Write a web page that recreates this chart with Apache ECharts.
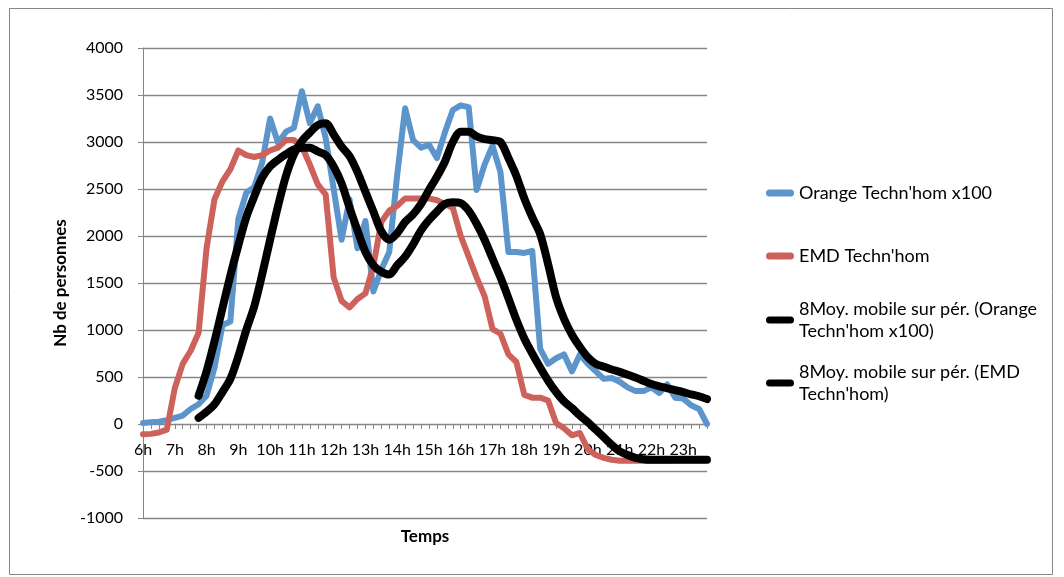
<!DOCTYPE html>
<html><head><meta charset="utf-8">
<script src="https://cdn.jsdelivr.net/npm/echarts/dist/echarts.min.js"></script>
<style>html,body{margin:0;padding:0;background:#fff}#c{width:1064px;height:577px}</style>
</head><body><div id="c"></div>
<script>
const times = [
"6:00","6:15","6:30","6:45","7:00","7:15","7:30","7:45","8:00","8:15","8:30","8:45",
"9:00","9:15","9:30","9:45","10:00","10:15","10:30","10:45","11:00","11:15","11:30","11:45",
"12:00","12:15","12:30","12:45","13:00","13:15","13:30","13:45","14:00","14:15","14:30","14:45",
"15:00","15:15","15:30","15:45","16:00","16:15","16:30","16:45","17:00","17:15","17:30","17:45",
"18:00","18:15","18:30","18:45","19:00","19:15","19:30","19:45","20:00","20:15","20:30","20:45",
"21:00","21:15","21:30","21:45","22:00","22:15","22:30","22:45","23:00","23:15","23:30","23:45"];

const orangeX100 = [
10,20,25,40,65,90,160,210,300,600,1050,1090,
2180,2460,2520,2780,3250,2990,3110,3150,3540,3200,3380,3040,
2500,1960,2390,1870,2160,1410,1640,1830,2650,3360,3020,2940,
2970,2830,3100,3340,3390,3370,2490,2760,2960,2680,1830,1830,
1820,1840,800,640,700,740,560,740,640,560,480,490,
450,390,350,350,390,330,420,280,270,200,160,0];

const emd = [
-110,-105,-90,-60,380,640,780,970,1870,2390,2580,2710,
2910,2860,2840,2860,2910,2940,3020,3020,2950,2760,2550,2440,
1560,1310,1240,1330,1390,1680,2150,2270,2320,2400,2400,2400,
2400,2380,2340,2300,2000,1780,1560,1360,1010,960,740,660,
310,280,280,250,10,-45,-120,-95,-270,-330,-360,-380,
-390,-390,-390,-390,-390,-390,-390,-385,-385,-385,-385,-385];

const maOrange = [
null,null,null,null,null,null,null,65,130,210,340,480,
720,1000,1250,1590,1960,2320,2640,2870,3010,3100,3180,3200,
3080,2950,2850,2680,2470,2260,2050,1960,2030,2150,2230,2340,
2490,2630,2790,3000,3110,3110,3060,3030,3020,3000,2830,2640,
2400,2200,2020,1700,1350,1120,950,820,710,640,610,580,
555,525,495,460,425,400,380,360,340,315,295,265];

const maEmd = [
null,null,null,null,null,null,null,300,560,880,1230,1580,
1900,2200,2420,2620,2740,2810,2870,2920,2940,2940,2900,2860,
2740,2560,2300,2060,1830,1690,1620,1590,1690,1780,1910,2060,
2170,2260,2340,2360,2350,2270,2130,1960,1760,1560,1340,1110,
910,750,600,460,340,240,170,90,20,-60,-140,-220,
-290,-330,-360,-375,-380,-380,-380,-380,-380,-380,-380,-380];

const yMin = -1000, yMax = 4000, yStep = 500;

const names = ["Orange Techn'hom x100", "EMD Techn'hom",
  "8Moy. mobile sur pér. (Orange Techn'hom x100)", "8Moy. mobile sur pér. (EMD Techn'hom)"];
const legendLabels = {
  [names[0]]: "Orange Techn'hom x100",
  [names[1]]: "EMD Techn'hom",
  [names[2]]: "8Moy. mobile sur pér. (Orange\nTechn'hom x100)",
  [names[3]]: "8Moy. mobile sur pér. (EMD\nTechn'hom)"
};

const FONT = 'Lato';
const GRID = '#868686';
const pill = 'path://M3.5,0L24.5,0A3.5,3.5,0,0,1,24.5,7L3.5,7A3.5,3.5,0,0,1,3.5,0Z';

function legendFor(name, top, twoLine) {
  return {
    data: [name], left: 766, top: top, padding: 0, orient: 'vertical',
    itemWidth: 28, itemHeight: 7, icon: pill, selectedMode: false,
    formatter: n => legendLabels[n],
    textStyle: Object.assign({fontFamily: FONT, fontSize: 18, color: '#000', lineHeight: 22},
      twoLine ? {padding: [22, 0, 0, 0]} : {})
  };
}

const chart = echarts.init(document.getElementById('c'), null, {renderer: 'canvas'});
chart.setOption({
  animation: false,
  backgroundColor: '#fff',
  graphic: [{
    type: 'rect', shape: {x: 9.5, y: 8.5, width: 1043, height: 566},
    style: {fill: 'none', stroke: GRID, lineWidth: 1}, silent: true, z: -10
  }],
  grid: {left: 143, right: 357, top: 48, bottom: 59, outerBoundsMode: 'none'},
  legend: [
    legendFor(names[0], 193 - 11, false),
    legendFor(names[1], 256 - 11, false),
    legendFor(names[2], 320 - 33, true),
    legendFor(names[3], 383 - 33, true)
  ],
  xAxis: {
    type: 'category', data: times, boundaryGap: false, position: 'bottom', offset: 0,
    name: 'Temps', nameLocation: 'middle', nameGap: 104,
    nameTextStyle: {fontFamily: FONT, fontSize: 17, fontWeight: 'bold', color: '#000'},
    axisLine: {onZero: false, lineStyle: {color: GRID, width: 1}},
    axisTick: {show: true, interval: 0, length: 5, lineStyle: {color: GRID}},
    axisLabel: {
      interval: 0, margin: 18, fontFamily: FONT, fontSize: 16, color: '#000',
      formatter: v => v.endsWith(':00') ? v.split(':')[0] + 'h' : ''
    },
    splitLine: {show: false}
  },
  yAxis: {
    type: 'value', min: yMin, max: yMax, interval: yStep,
    name: 'Nb de personnes', nameLocation: 'middle', nameRotate: 90, nameGap: 64,
    nameTextStyle: {fontFamily: FONT, fontSize: 17, fontWeight: 'bold', color: '#000'},
    axisLine: {show: true, lineStyle: {color: GRID, width: 1}},
    axisTick: {show: true, length: 5, lineStyle: {color: GRID}},
    axisLabel: {margin: 20, fontFamily: FONT, fontSize: 16, color: '#000', formatter: v => String(v)},
    splitLine: {show: true, lineStyle: {color: GRID, width: 1.3}}
  },
  series: [
    {name: names[0], type: 'line', data: orangeX100, showSymbol: false, symbol: 'none',
     color: '#5B95CC', itemStyle: {color: '#5B95CC'},
     lineStyle: {color: '#5B95CC', width: 6, cap: 'round', join: 'round'}, z: 2},
    {name: names[1], type: 'line', data: emd, showSymbol: false, symbol: 'none',
     color: '#CD625C', itemStyle: {color: '#CD625C'},
     lineStyle: {color: '#CD625C', width: 6, cap: 'round', join: 'round'}, z: 3},
    {name: names[2], type: 'line', data: maOrange, showSymbol: false, symbol: 'none', smooth: 0.3,
     color: '#000', itemStyle: {color: '#000'},
     lineStyle: {color: '#000', width: 8, cap: 'round', join: 'round'}, z: 4},
    {name: names[3], type: 'line', data: maEmd, showSymbol: false, symbol: 'none', smooth: 0.3,
     color: '#000', itemStyle: {color: '#000'},
     lineStyle: {color: '#000', width: 8, cap: 'round', join: 'round'}, z: 5}
  ]
});

// Put the category axis on the value 0 line (as in the source chart), using the library's own scale.
const yZero = chart.convertToPixel({yAxisIndex: 0}, 0);
const yBottom = chart.convertToPixel({yAxisIndex: 0}, yMin);
chart.setOption({xAxis: {offset: yZero - yBottom}});
</script></body></html>
